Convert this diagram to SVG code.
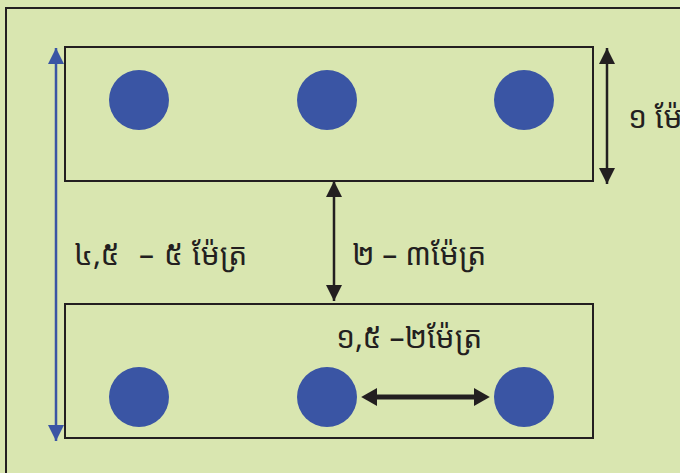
<svg xmlns="http://www.w3.org/2000/svg" width="680" height="473" viewBox="0 0 680 473">
<style>
.box{fill:none;stroke:#231f20;stroke-width:2}
.dot{fill:#3a55a4}
.lbl{font-family:"Noto Sans Khmer","Khmer OS","Noto Sans","DejaVu Sans",sans-serif;font-size:30px;fill:#231f20}
.blk{stroke:#231f20;stroke-width:2.5;fill:none}
</style>
<defs>
<marker id="ab" viewBox="0 0 10 10" refX="2" refY="5" markerWidth="16" markerHeight="18" markerUnits="userSpaceOnUse" orient="auto-start-reverse" preserveAspectRatio="none"><path d="M0,0L10,5L0,10z" fill="#231f20"/></marker>
<marker id="abu" viewBox="0 0 10 10" refX="10" refY="5" markerWidth="16" markerHeight="16" markerUnits="userSpaceOnUse" orient="auto-start-reverse"><path d="M0,0L10,5L0,10z" fill="#3a55a4"/></marker>
<marker id="abk" viewBox="0 0 10 10" refX="10" refY="5" markerWidth="16" markerHeight="16" markerUnits="userSpaceOnUse" orient="auto-start-reverse"><path d="M0,0L10,5L0,10z" fill="#231f20"/></marker>
</defs>
<rect width="680" height="473" fill="#d9e6b0"/>
<rect x="6" y="8" width="690" height="480" fill="none" stroke="#231f20" stroke-width="2"/>
<g id="top-bed">
<rect class="box" x="65" y="47" width="528" height="134"/>
<circle class="dot" cx="139" cy="100" r="30"/>
<circle class="dot" cx="327" cy="100" r="30"/>
<circle class="dot" cx="524" cy="100" r="30"/>
</g>
<g id="bottom-bed">
<rect class="box" x="65" y="304" width="528" height="134"/>
<circle class="dot" cx="139" cy="397" r="30"/>
<circle class="dot" cx="327" cy="397" r="30"/>
<circle class="dot" cx="524" cy="397" r="30"/>
</g>
<g id="connectors">
<line x1="56" y1="48" x2="56" y2="441" stroke="#3a55a4" stroke-width="2.5" marker-start="url(#abu)" marker-end="url(#abu)"/>
<line class="blk" x1="607" y1="48" x2="607" y2="184" marker-start="url(#abk)" marker-end="url(#abk)"/>
<line class="blk" x1="334" y1="181" x2="334" y2="301" marker-start="url(#abk)" marker-end="url(#abk)"/>
<line x1="374" y1="397" x2="477" y2="397" stroke="#231f20" stroke-width="5" marker-start="url(#ab)" marker-end="url(#ab)"/>
</g>
<g id="labels">
<text class="lbl" x="628" y="128">១ ម៉ែត្រ</text>
<text class="lbl" y="265"><tspan x="74">៤,៥</tspan><tspan x="139">–</tspan><tspan x="164">៥</tspan><tspan x="192">ម៉ែត្រ</tspan></text>
<text class="lbl" x="352" y="265">២ – ៣ម៉ែត្រ</text>
<text class="lbl" x="336" y="348">១,៥ –២ម៉ែត្រ</text>
</g>
</svg>
